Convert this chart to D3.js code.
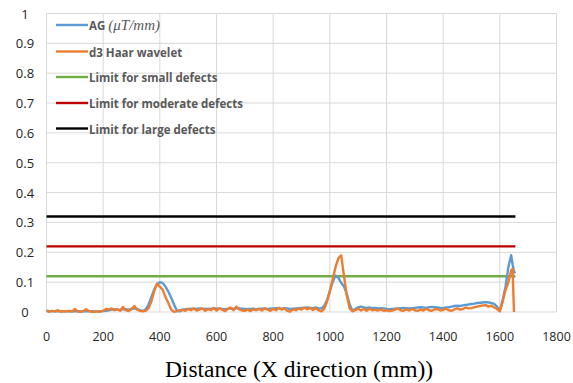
<!DOCTYPE html>
<html>
<head>
<meta charset="utf-8">
<script src="https://cdn.jsdelivr.net/npm/d3@7"></script>
<style>
  body { margin: 0; background: #fff; }
  svg { display: block; }
</style>
</head>
<body>
<div id="container"></div>
<script>
// distance along X (mm)
let distance = [
    0, 10, 20, 30, 40, 50, 60, 70, 80, 90,
    100, 110, 120, 130, 140, 150, 160, 170, 180, 190,
    200, 210, 220, 230, 240, 250, 260, 270, 280, 290,
    300, 310, 320, 330, 340, 350, 360, 370, 380, 390,
    400, 410, 420, 430, 440, 450, 460, 470, 480, 490,
    500, 510, 520, 530, 540, 550, 560, 570, 580, 590,
    600, 610, 620, 630, 640, 650, 660, 670, 680, 690,
    700, 710, 720, 730, 740, 750, 760, 770, 780, 790,
    800, 810, 820, 830, 840, 850, 860, 870, 880, 890,
    900, 910, 920, 930, 940, 950, 960, 970, 980, 990,
    1000, 1010, 1020, 1030, 1040, 1050, 1060, 1070, 1080, 1090,
    1100, 1110, 1120, 1130, 1140, 1150, 1160, 1170, 1180, 1190,
    1200, 1210, 1220, 1230, 1240, 1250, 1260, 1270, 1280, 1290,
    1300, 1310, 1320, 1330, 1340, 1350, 1360, 1370, 1380, 1390,
    1400, 1410, 1420, 1430, 1440, 1450, 1460, 1470, 1480, 1490,
    1500, 1510, 1520, 1530, 1540, 1550, 1560, 1570, 1580, 1590,
    1600, 1610, 1620, 1630, 1640, 1645, 1650, 1655
];
let ag = [
    0.004, 0.003, 0.003, 0.002, 0.002, 0.003, 0.002, 0.002, 0.003, 0.002,
    0.002, 0.003, 0.002, 0.003, 0.002, 0.002, 0.003, 0.002, 0.002, 0.003,
    0.003, 0.004, 0.006, 0.008, 0.009, 0.008, 0.007, 0.010, 0.009, 0.008,
    0.010, 0.012, 0.010, 0.006, 0.004, 0.008, 0.025, 0.050, 0.075, 0.094,
    0.100, 0.097, 0.085, 0.068, 0.048, 0.025, 0.005, 0.002, 0.008, 0.009,
    0.010, 0.011, 0.010, 0.010, 0.012, 0.011, 0.010, 0.011, 0.010, 0.012,
    0.011, 0.012, 0.010, 0.009, 0.011, 0.012, 0.010, 0.013, 0.012, 0.011,
    0.010, 0.009, 0.010, 0.011, 0.009, 0.010, 0.011, 0.012, 0.010, 0.011,
    0.012, 0.013, 0.012, 0.011, 0.013, 0.012, 0.010, 0.011, 0.012, 0.013,
    0.014, 0.013, 0.015, 0.014, 0.013, 0.015, 0.013, 0.012, 0.020, 0.040,
    0.070, 0.100, 0.122, 0.115, 0.098, 0.085, 0.060, 0.025, 0.004, 0.010,
    0.016, 0.018, 0.015, 0.014, 0.015, 0.013, 0.014, 0.012, 0.013, 0.012,
    0.010, 0.009, 0.010, 0.011, 0.012, 0.013, 0.014, 0.013, 0.012, 0.013,
    0.014, 0.015, 0.016, 0.015, 0.014, 0.016, 0.017, 0.016, 0.015, 0.014,
    0.013, 0.015, 0.016, 0.018, 0.020, 0.021, 0.020, 0.022, 0.024, 0.025,
    0.027, 0.028, 0.030, 0.031, 0.032, 0.033, 0.032, 0.030, 0.027, 0.018,
    0.004, 0.040, 0.085, 0.150, 0.190, 0.160, 0.135, 0.130
];
let haar = [
    0.003, 0.001, 0.004, 0.002, 0.006, 0.001, 0.003, 0.002, 0.004, 0.001,
    0.010, 0.002, 0.001, 0.003, 0.009, 0.003, 0.001, 0.001, 0.002, 0.001,
    0.004, 0.010, 0.008, 0.012, 0.006, 0.009, 0.004, 0.017, 0.006, 0.003,
    0.010, 0.020, 0.008, 0.004, 0.002, 0.004, 0.012, 0.035, 0.070, 0.095,
    0.085, 0.075, 0.050, 0.030, 0.008, 0.001, 0.002, 0.006, 0.007, 0.004,
    0.010, 0.006, 0.013, 0.005, 0.008, 0.012, 0.004, 0.010, 0.006, 0.014,
    0.005, 0.012, 0.008, 0.003, 0.010, 0.015, 0.006, 0.018, 0.009, 0.005,
    0.004, 0.008, 0.003, 0.009, 0.006, 0.011, 0.005, 0.012, 0.008, 0.004,
    0.010, 0.006, 0.014, 0.008, 0.012, 0.004, 0.001, 0.009, 0.006, 0.012,
    0.008, 0.015, 0.009, 0.014, 0.007, 0.013, 0.006, 0.002, 0.010, 0.035,
    0.070, 0.110, 0.150, 0.180, 0.190, 0.120, 0.055, 0.012, 0.002, 0.006,
    0.012, 0.005, 0.010, 0.004, 0.011, 0.006, 0.008, 0.005, 0.009, 0.004,
    0.006, 0.003, 0.005, 0.008, 0.012, 0.006, 0.004, 0.009, 0.005, 0.010,
    0.006, 0.004, 0.008, 0.005, 0.011, 0.006, 0.004, 0.009, 0.010, 0.005,
    0.007, 0.011, 0.006, 0.004, 0.009, 0.012, 0.008, 0.010, 0.015, 0.012,
    0.013, 0.016, 0.018, 0.020, 0.022, 0.023, 0.018, 0.021, 0.015, 0.010,
    0.002, 0.035, 0.073, 0.100, 0.140, 0.145, 0, null
];
let limitValues = [0.12, 0.22, 0.32];
let limitColors = ["#70ad47", "#c00000", "#000000"];
let legendNames = ["AG", "d3 Haar wavelet", "Limit for small defects", "Limit for moderate defects", "Limit for large defects"];
let legendColors = ["#5b9bd5", "#ed7d31"].concat(limitColors);
let xTicks = [0, 200, 400, 600, 800, 1000, 1200, 1400, 1600, 1800];
let yTicks = [0, 0.1, 0.2, 0.3, 0.4, 0.5, 0.6, 0.7, 0.8, 0.9, 1];

let width = 573, height = 383;
let svg = d3.select('#container')
    .append("svg")
    .attr("width", width)
    .attr("height", height);

let x = d3.scaleLinear().domain([0, 1800]).range([46.5, 556.5]);
let y = d3.scaleLinear().domain([0, 1]).range([312, 13.5]);

// gridlines
let grid = svg.append("g").attr("stroke", "#d9d9d9").attr("stroke-width", 1);
grid.selectAll(".gx")
    .data(xTicks)
    .enter()
    .append("line")
    .attr("x1", d => x(d)).attr("x2", d => x(d))
    .attr("y1", y(0)).attr("y2", y(1));
grid.selectAll(".gy")
    .data(yTicks)
    .enter()
    .append("line")
    .attr("x1", x(0)).attr("x2", x(1800))
    .attr("y1", d => y(d)).attr("y2", d => y(d));

// tick labels
svg.append("g")
    .selectAll("text")
    .data(yTicks)
    .enter()
    .append("text")
    .attr("x", 25)
    .attr("y", d => y(d))
    .attr("text-anchor", "middle")
    .attr("dominant-baseline", "central")
    .attr("style", "font-family:'Open Sans',sans-serif;font-size:13px;fill:#262626")
    .text(d => d3.format("~g")(d));
svg.append("g")
    .selectAll("text")
    .data(xTicks)
    .enter()
    .append("text")
    .attr("x", d => x(d))
    .attr("y", 336)
    .attr("text-anchor", "middle")
    .attr("dominant-baseline", "central")
    .attr("style", "font-family:'Open Sans',sans-serif;font-size:12.5px;fill:#262626")
    .text(d => d);

svg.append("text")
    .attr("x", 299)
    .attr("y", 377)
    .attr("text-anchor", "middle")
    .attr("style", "font-family:'Liberation Serif',serif;font-size:23.5px;fill:#000")
    .text("Distance (X direction (mm))");

// limit lines
let first = distance[0], last = distance[distance.length - 1];
svg.append("g")
    .selectAll("line")
    .data(limitValues)
    .enter()
    .append("line")
    .attr("x1", x(first)).attr("x2", x(last))
    .attr("y1", d => y(d)).attr("y2", d => y(d))
    .attr("stroke", (_, i) => limitColors[i])
    .attr("stroke-width", 2.4);

// measured series
let series = [ag, haar];
svg.append("g")
    .selectAll("path")
    .data(series)
    .enter()
    .append("path")
    .attr("fill", "none")
    .attr("stroke", (_, i) => legendColors[i])
    .attr("stroke-width", 2.4)
    .attr("stroke-linejoin", "round")
    .attr("d", s => d3.line()
        .defined((d, i) => s[i] != null)
        .x((d, i) => x(distance[i]))
        .y((d, i) => y(s[i]))(s));

// legend
let legendY = [25, 51.5, 77, 103, 128.5];
let legend = svg.append("g")
    .selectAll("g")
    .data(legendNames)
    .enter()
    .append("g")
    .attr("transform", (_, i) => "translate(0," + legendY[i] + ")");
legend.append("line")
    .attr("x1", 56).attr("x2", 88)
    .attr("stroke", (_, i) => legendColors[i])
    .attr("stroke-width", 2.4);
let lt = legend.append("text")
    .attr("x", 89)
    .attr("y", 0)
    .attr("dominant-baseline", "central")
    .attr("style", "font-family:'Open Sans',sans-serif;font-size:11.5px;font-weight:700;fill:#595959");
lt.append("tspan").text(d => d);
lt.filter((_, i) => i === 0)
    .append("tspan")
    .attr("dx", 3)
    .attr("style", "font-family:'Liberation Serif',serif;font-style:italic;font-weight:normal;font-size:15px;fill:#595959")
    .text("(μT/mm)");
</script>
</body>
</html>
